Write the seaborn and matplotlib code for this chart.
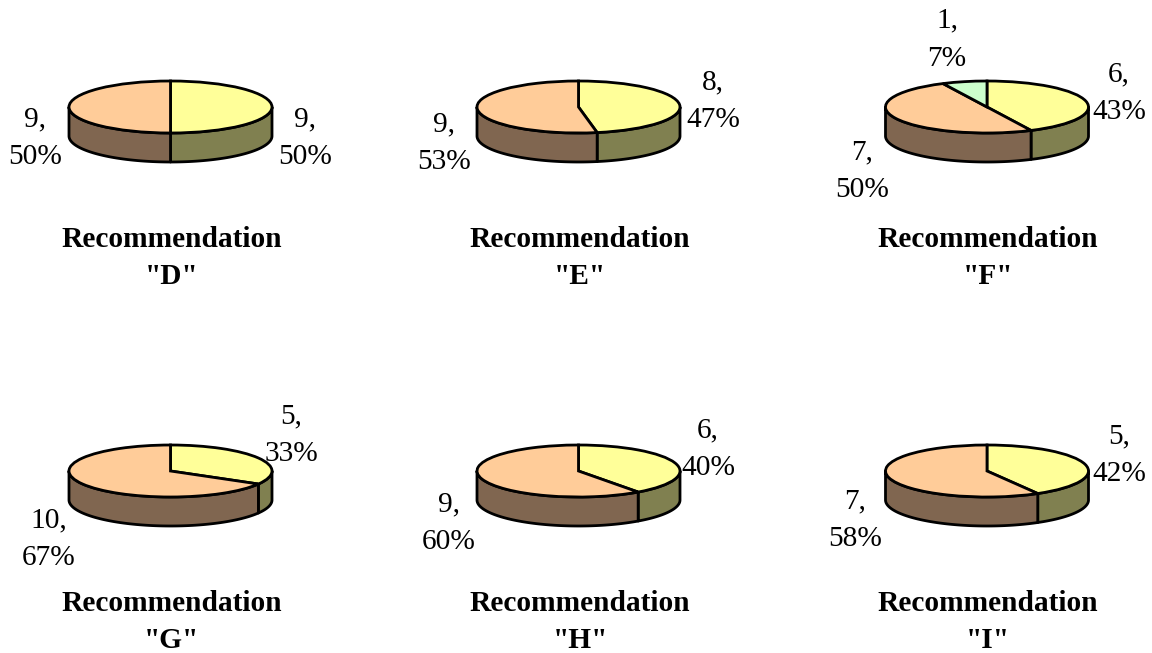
import numpy as np
import matplotlib
matplotlib.use('Agg')
import matplotlib.pyplot as plt
import seaborn as sns

# one entry per recommendation
recommendations = ['D', 'E', 'F', 'G', 'H', 'I']
series_a = [9, 8, 6, 5, 6, 5]
series_b = [9, 9, 7, 10, 9, 7]
series_c = [0, 0, 1, 0, 0, 0]

top_colors = ['#FFFF99', '#FFCC99', '#CCFFCC']
wall_colors = ['#808050', '#806650', '#668066']

sns.set_theme(style='white')
plt.rcParams['font.family'] = ['Liberation Serif', 'DejaVu Serif']

W, H = 1152, 653
RX, RY, DEPTH = 101.5, 26, 29  # pie size in pixels
FONT = 21.2
LW = 2.0

# pie centres (pixels)
centers = [(170.5, 107), (578.5, 107), (987, 107),
           (170.5, 471), (578.5, 471), (987, 471)]
title_xy = [(171.5, 258), (580, 258), (988, 258),
            (171.5, 622), (580, 622), (988, 622)]
# label centres (pixels), per slice
label_xy = [
    [(305, 138), (35, 138), None],
    [(713, 101), (444, 143), None],
    [(1119, 93), (862, 171), (947, 39.5)],
    [(291, 435), (49, 539), None],
    [(708, 449), (449, 523), None],
    [(1119, 455), (855, 520), None],
]

fig = plt.figure(figsize=(W / 100, H / 100), dpi=100)


def draw_walls(ax, values, colors):
    # side of the disc, only the front half (90-270 deg clockwise from top) shows
    edges = np.cumsum([0] + list(values)) / sum(values) * 360
    depth = DEPTH / RY
    for i, color in enumerate(colors):
        a0, a1 = max(edges[i], 90), min(edges[i + 1], 270)
        if a1 <= a0:
            continue
        t = np.radians(np.linspace(a0, a1, 80))
        x, y = np.sin(t), np.cos(t)
        ax.fill(np.r_[x, x[::-1]], np.r_[y, y[::-1] - depth], facecolor=color,
                edgecolor='black', linewidth=LW, joinstyle='round', zorder=1)


for i, rec in enumerate(recommendations):
    cx, cy = centers[i]
    values = [series_a[i], series_b[i], series_c[i]]
    keep = [j for j, v in enumerate(values) if v > 0]
    vals = [values[j] for j in keep]

    ax_w, ax_h = 300, 160
    ax = fig.add_axes([(cx - ax_w / 2) / W, 1 - (cy + ax_h / 2) / H, ax_w / W, ax_h / H])
    wedges, _ = ax.pie(vals, colors=[top_colors[j] for j in keep], startangle=90,
                       counterclock=False, radius=1,
                       wedgeprops={'edgecolor': 'black', 'linewidth': LW})
    for w in wedges:
        w.set_zorder(2)
    draw_walls(ax, vals, [wall_colors[j] for j in keep])
    ax.set_aspect('auto')
    ax.set_xlim(-ax_w / 2 / RX, ax_w / 2 / RX)
    ax.set_ylim(-ax_h / 2 / RY, ax_h / 2 / RY)

    total = sum(vals)
    for j in keep:
        lx, ly = label_xy[i][j]
        fig.text(lx / W, 1 - ly / H, f'{values[j]},\n{values[j] / total * 100:.0f}%',
                 ha='center', va='center', fontsize=FONT, color='black', linespacing=1.6)

    tx, ty = title_xy[i]
    fig.text(tx / W, 1 - ty / H, f'Recommendation\n"{rec}"', ha='center', va='center',
             fontsize=FONT, fontweight='bold', color='black', linespacing=1.45)

fig.savefig('out.png', dpi=100)
